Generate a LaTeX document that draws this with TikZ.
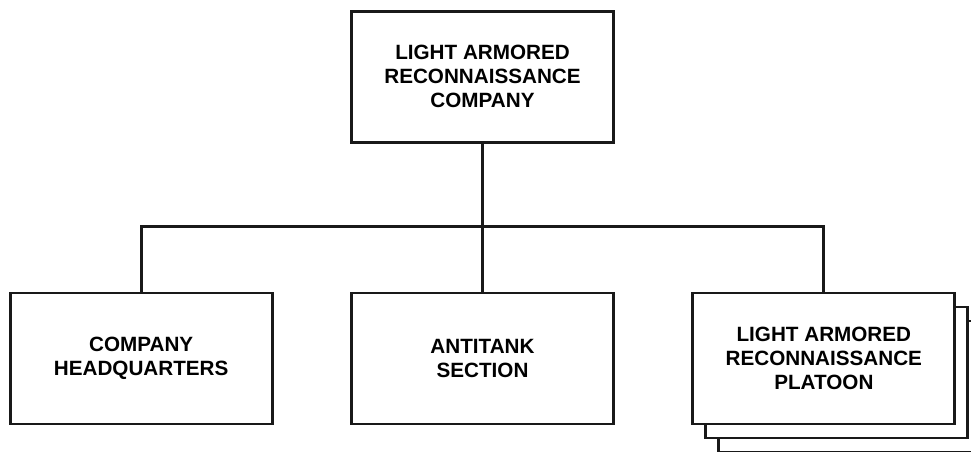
\documentclass[tikz,border=0pt]{standalone}
\usepackage{fontspec}
\setmainfont{Liberation Sans}
\usetikzlibrary{positioning}
\tikzstyle{unit} = [rectangle, minimum width=196.5pt, minimum height=98.25pt, align=center, draw=black!90, line width=2.2pt, fill=white, font=\bfseries\fontsize{15.5}{18}\selectfont]
\tikzstyle{link} = [draw=black!90, line width=2.2pt]

\begin{document}
\begin{tikzpicture}
        \useasboundingbox (0,0) rectangle (728.25pt,-338.25pt);
        \node (company) [unit] at (361.9pt,-57.4pt) {LIGHT ARMORED\\RECONNAISSANCE\\COMPANY};
        \node (hq) [unit, below=111pt of company, xshift=-256pt] {COMPANY\\HEADQUARTERS};
        \node (antitank) [unit, below=111pt of company] {ANTITANK\\SECTION};
        \node (platoon3) [unit, below=111pt of company, xshift=275.5pt, yshift=-21pt] {};
        \node (platoon2) [unit, below=111pt of company, xshift=265.75pt, yshift=-10.5pt] {};
        \node (platoon) [unit, below=111pt of company, xshift=256pt] {LIGHT ARMORED\\RECONNAISSANCE\\PLATOON};
        \coordinate [below=62.25pt of company.south] (bus);

        \draw [link] (company.south) -- (antitank.north);
        \draw [link] (hq.north) |- (bus) -| (platoon.north);
\end{tikzpicture}
\end{document}
